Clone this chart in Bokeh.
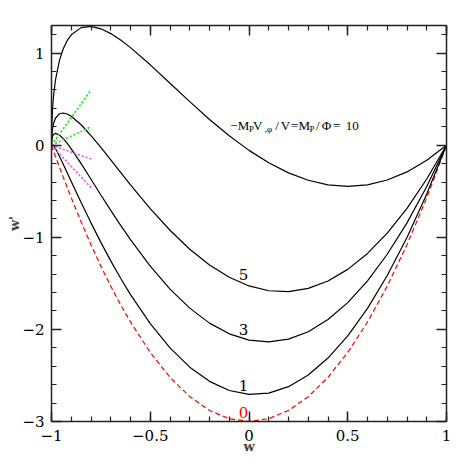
from bokeh.plotting import figure
from bokeh.models import Range1d, LinearAxis, FixedTicker, CustomJSTickFormatter
from bokeh.core.properties import value
from bokeh.embed import file_html
from bokeh.resources import INLINE

# ---- data ----
w_grid = [-1, -0.999, -0.995, -0.99, -0.98, -0.96, -0.94, -0.92, -0.9, -0.85, -0.8, -0.75,
          -0.7, -0.65, -0.6, -0.5, -0.4, -0.3, -0.2, -0.1, 0, 0.1, 0.2, 0.3, 0.4, 0.5,
          0.6, 0.7, 0.8, 0.9, 1]
wp_10 = [0, 0.180, 0.385, 0.526, 0.706, 0.919, 1.050, 1.138, 1.199, 1.277, 1.290, 1.264,
         1.212, 1.142, 1.060, 0.873, 0.673, 0.473, 0.280, 0.103, -0.056, -0.191, -0.300,
         -0.380, -0.430, -0.447, -0.430, -0.378, -0.290, -0.164, 0]
wp_5 = [0, 0.087, 0.178, 0.233, 0.293, 0.342, 0.350, 0.339, 0.315, 0.222, 0.105, -0.024,
        -0.159, -0.295, -0.430, -0.688, -0.923, -1.129, -1.300, -1.434, -1.528, -1.580,
        -1.590, -1.555, -1.475, -1.348, -1.175, -0.954, -0.685, -0.367, 0]
wp_3 = [0, 0.050, 0.095, 0.116, 0.129, 0.111, 0.071, 0.019, -0.039, -0.200, -0.369, -0.540,
        -0.707, -0.870, -1.026, -1.313, -1.562, -1.769, -1.932, -2.048, -2.117, -2.136,
        -2.106, -2.025, -1.893, -1.709, -1.473, -1.184, -0.843, -0.448, 0]
wp_1 = [0, 0.013, 0.012, -0.001, -0.036, -0.120, -0.209, -0.301, -0.393, -0.622, -0.843,
        -1.055, -1.256, -1.445, -1.622, -1.938, -2.201, -2.410, -2.564, -2.663, -2.706,
        -2.692, -2.622, -2.495, -2.311, -2.070, -1.771, -1.415, -1.001, -0.529, 0]
wp_0 = [0, -0.006, -0.030, -0.060, -0.119, -0.235, -0.349, -0.461, -0.570, -0.833, -1.080,
        -1.313, -1.530, -1.733, -1.920, -2.250, -2.520, -2.730, -2.880, -2.970, -3.000,
        -2.970, -2.880, -2.730, -2.520, -2.250, -1.920, -1.530, -1.080, -0.570, 0]

guide_w = [-1, -0.8]
green_hi = [0, 0.6]
green_lo = [0, 0.2]
magenta_hi = [0, -0.15]
magenta_lo = [0, -0.46]

curve_labels = ["5", "3", "1", "0"]
curve_label_w = [-0.028, -0.028, -0.028, -0.028]
curve_label_wp = [-1.40, -2.00, -2.61, -2.90]
curve_label_colors = ["black", "black", "black", "red"]

x_ticks = [-1, -0.5, 0, 0.5, 1]
x_tick_labels = ["−1", "−0.5", "0", "0.5", "1"]
y_ticks = [-3, -2, -1, 0, 1]
y_tick_labels = ["−3", "−2", "−1", "0", "1"]

FONT = "DejaVu Serif"
ANN_FONT = "Liberation Serif"

p = figure(frame_width=395, frame_height=396, x_range=Range1d(-1, 1), y_range=Range1d(-3, 1.3),
           output_backend="svg", toolbar_location=None,
           min_border_left=51, min_border_right=25, min_border_top=25, min_border_bottom=50)
p.grid.visible = False
p.outline_line_color = None
p.background_fill_color = "white"

x_minor = [round(-1 + 0.1 * i, 2) for i in range(21)]
y_minor = [round(-3 + 0.2 * i, 2) for i in range(22)]

def style_axis(ax, ticks, minor, labels=None):
    ax.ticker = FixedTicker(ticks=ticks, minor_ticks=minor)
    ax.major_tick_in = 10
    ax.major_tick_out = 0
    ax.minor_tick_in = 5
    ax.minor_tick_out = 0
    ax.axis_line_color = "#222222"
    ax.axis_line_width = 1.5
    ax.major_tick_line_color = "#222222"
    ax.major_tick_line_width = 1.5
    ax.minor_tick_line_color = "#222222"
    ax.minor_tick_line_width = 1.2
    ax.major_label_text_font = FONT
    ax.major_label_text_font_size = "15px"
    ax.major_label_text_color = "black"
    if labels is None:
        ax.formatter = CustomJSTickFormatter(code="return ''")
        ax.major_label_standoff = 0
    else:
        ax.major_label_overrides = {t: l for t, l in zip(ticks, labels)}

style_axis(p.xaxis[0], x_ticks, x_minor, x_tick_labels)
style_axis(p.yaxis[0], y_ticks, y_minor, y_tick_labels)
p.xaxis[0].major_label_standoff = 8
p.yaxis[0].major_label_standoff = 7
p.xaxis[0].axis_label = "w"
p.yaxis[0].axis_label = "w'"
for ax in (p.xaxis[0], p.yaxis[0]):
    ax.axis_label_text_font = FONT
    ax.axis_label_text_font_size = "13px"
    ax.axis_label_text_font_style = "bold"
p.xaxis[0].axis_label_standoff = -5
p.yaxis[0].axis_label_standoff = -3

top = LinearAxis()
style_axis(top, x_ticks, x_minor)
p.add_layout(top, "above")
right = LinearAxis()
style_axis(right, y_ticks, y_minor)
p.add_layout(right, "right")

# curves
p.line(w_grid, wp_0, line_color="#ff0000", line_width=1.2, line_dash="5 3")
for ys in (wp_1, wp_3, wp_5, wp_10):
    p.line(w_grid, ys, line_color="black", line_width=1.2)

p.line(guide_w, green_hi, line_color="#11ee11", line_width=1.6, line_dash="2 2")
p.line(guide_w, green_lo, line_color="#11ee11", line_width=1.6, line_dash="2 2")
p.line(guide_w, magenta_hi, line_color="#ff44ff", line_width=1.6, line_dash="2 2")
p.line(guide_w, magenta_lo, line_color="#ff44ff", line_width=1.6, line_dash="2 2")

p.text(x=curve_label_w, y=curve_label_wp, text=curve_labels, text_color=curve_label_colors,
       text_font=value(FONT), text_font_size="15px", text_align="center", text_baseline="middle")

# annotation: -M_P V_{,phi}/V = M_P/Phi = 10  (glyph centres in px from the left end)
ann_w, ann_wp = -0.0937, 0.21
main_txt = ["−", "M", "V", "/", "V", "=", "M", "/", "Φ", "=", "10"]
main_dx = [3.5, 13, 27.2, 46.5, 55, 64.2, 73.7, 87.2, 96, 106.2, 121.7]
sub_txt = ["P", ",φ", "P"]
sub_dx = [21, 38, 81.6]
p.text(x=[ann_w] * len(main_txt), y=[ann_wp] * len(main_txt), text=main_txt, x_offset=main_dx,
       text_font=value(ANN_FONT), text_font_size="13px", text_color="black",
       text_align="center", text_baseline="alphabetic")
p.text(x=[ann_w] * len(sub_txt), y=[ann_wp] * len(sub_txt), text=sub_txt, x_offset=sub_dx,
       y_offset=3, text_font=value(ANN_FONT), text_font_size="9px", text_color="black",
       text_align="center", text_baseline="alphabetic")

open("out.html", "w").write(file_html(p, INLINE))
